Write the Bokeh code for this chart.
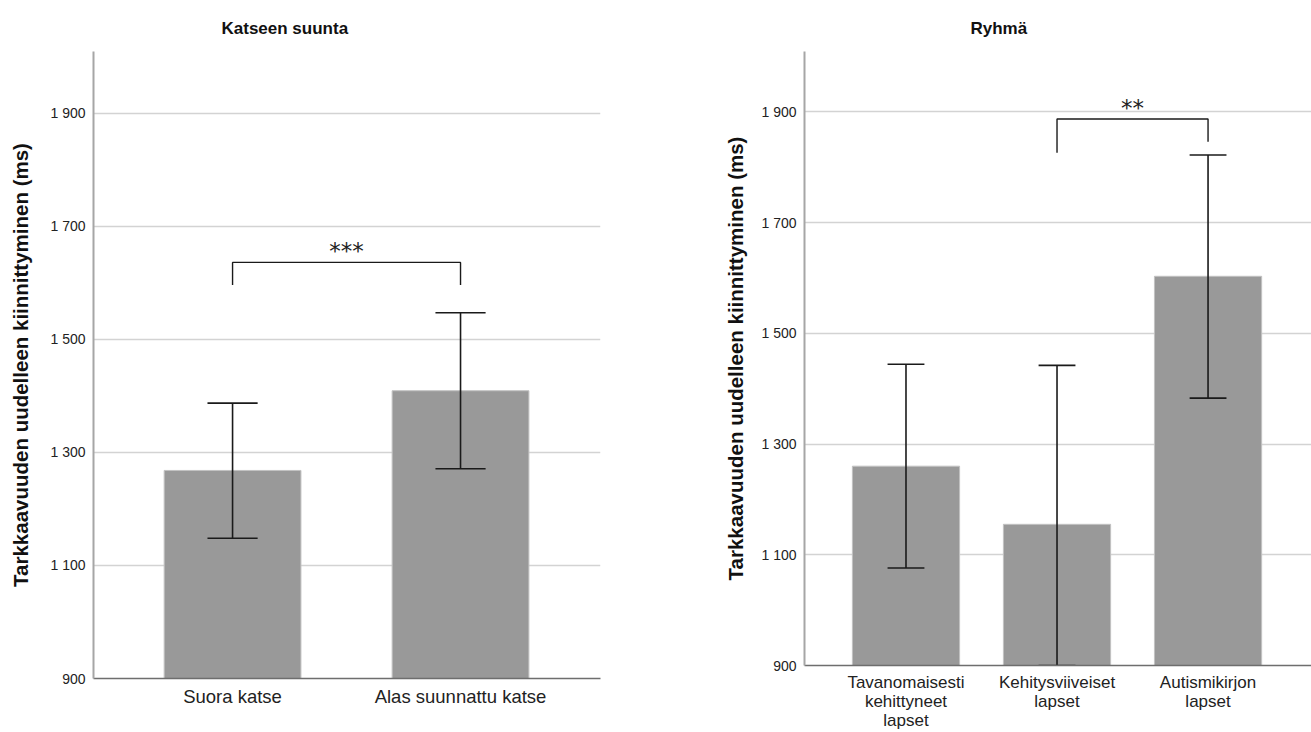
from bokeh.plotting import figure
from bokeh.models import Range1d, FixedTicker, ColumnDataSource
from bokeh.layouts import row, column
from bokeh.embed import file_html
from bokeh.resources import INLINE
from bokeh.core.properties import value

FONT = "Liberation Sans"

# ---- data ----
title1 = "Katseen suunta"
cats1 = ["Suora katse", "Alas suunnattu katse"]
means1 = [1268, 1409]
lower1 = [1148, 1271]
upper1 = [1387, 1547]

title2 = "Ryhmä"
cats2 = ["Tavanomaisesti\nkehittyneet\nlapset", "Kehitysviiveiset\nlapset", "Autismikirjon\nlapset"]
means2 = [1260, 1155, 1603]
lower2 = [1076, 900, 1383]
upper2 = [1444, 1442, 1822]

ytick_values = [900, 1100, 1300, 1500, 1700, 1900]
ytick_labels = ["900", "1 100", "1 300", "1 500", "1 700", "1 900"]
y_label = "Tarkkaavuuden uudelleen kiinnittyminen (ms)"

sig1_pair = [0, 1]
sig1_levels = [1596, 1636, 1636, 1596]
sig1_text = "***"

sig2_pair = [1, 2]
sig2_levels = [1826, 1887, 1887, 1846]
sig2_text = "**"


def make_panel(title, cats, means, lower, upper, pair, levels, star,
               x_start, x_end, width, height, b_left, b_right, b_top, b_bottom,
               bar_w, cap_half, title_offset, xlab_size, xlab_standoff, ylab_standoff):
    idx = list(range(len(cats)))
    p = figure(width=width, height=height, output_backend="svg", toolbar_location=None,
               x_range=Range1d(x_start, x_end), y_range=Range1d(900, 2009),
               min_border_left=b_left, min_border_right=b_right,
               min_border_top=b_top, min_border_bottom=b_bottom)
    p.outline_line_color = None
    p.background_fill_color = "white"
    p.border_fill_color = "white"

    p.title.text = title
    p.title.text_font = FONT
    p.title.text_font_size = "17px"
    p.title.text_font_style = "bold"
    p.title.text_color = "#111111"
    p.title.align = "left"
    p.title.offset = title_offset
    p.title.standoff = 27

    src = ColumnDataSource(dict(x=idx, top=means, lo=lower, hi=upper,
                                cl=[i - cap_half for i in idx], cr=[i + cap_half for i in idx]))
    p.vbar(x="x", top="top", bottom=900, width=bar_w, source=src,
           fill_color="#999999", line_color="#c2c2c2", line_width=1)
    p.segment(x0="x", y0="lo", x1="x", y1="hi", source=src, line_color="#1a1a1a", line_width=1.6)
    p.segment(x0="cl", y0="lo", x1="cr", y1="lo", source=src, line_color="#1a1a1a", line_width=1.6)
    p.segment(x0="cl", y0="hi", x1="cr", y1="hi", source=src, line_color="#1a1a1a", line_width=1.6)

    # significance bracket
    i0, i1 = pair
    p.line(x=[i0, i0, i1, i1], y=levels, line_color="#1a1a1a", line_width=1.4)
    p.text(x=[(i0 + i1) / 2], y=[levels[1]], text=[star], text_font=value("DejaVu Sans"),
           text_font_size="23px", text_align="center", text_baseline="alphabetic",
           y_offset=-11, text_color="#222222")

    # axes
    p.xaxis.ticker = FixedTicker(ticks=idx)
    p.xaxis.major_label_overrides = {i: c for i, c in zip(idx, cats)}
    p.xaxis.major_label_text_font = FONT
    p.xaxis.major_label_text_font_size = xlab_size
    p.xaxis.major_label_text_line_height = 1.0
    p.xaxis.major_label_text_color = "#222222"
    p.xaxis.major_label_standoff = xlab_standoff
    p.xaxis.major_tick_line_color = None
    p.xaxis.major_tick_out = 0
    p.xaxis.major_tick_in = 0
    p.xaxis.minor_tick_line_color = None
    p.xaxis.axis_label_standoff = 0
    p.xaxis.axis_line_color = "#6e6e6e"
    p.xaxis.axis_line_width = 1.5

    p.yaxis.ticker = FixedTicker(ticks=ytick_values)
    p.yaxis.major_label_overrides = {v: l for v, l in zip(ytick_values, ytick_labels)}
    p.yaxis.major_label_text_font = FONT
    p.yaxis.major_label_text_font_size = "14px"
    p.yaxis.major_label_text_color = "#222222"
    p.yaxis.major_label_standoff = 8
    p.yaxis.major_tick_line_color = None
    p.yaxis.major_tick_out = 0
    p.yaxis.major_tick_in = 0
    p.yaxis.minor_tick_line_color = None
    p.yaxis.axis_line_color = "#a6a6a6"
    p.yaxis.axis_line_width = 2
    p.yaxis.axis_label = y_label
    p.yaxis.axis_label_text_font = FONT
    p.yaxis.axis_label_text_font_size = "20.5px"
    p.yaxis.axis_label_text_font_style = "bold"
    p.yaxis.axis_label_text_color = "#111111"
    p.yaxis.axis_label_standoff = ylab_standoff

    p.xgrid.grid_line_color = None
    p.ygrid.ticker = FixedTicker(ticks=ytick_values[1:])
    p.ygrid.grid_line_color = "#d3d3d3"
    p.ygrid.grid_line_width = 1.5
    p.ygrid.level = "underlay"
    return p


p1 = make_panel(title1, cats1, means1, lower1, upper1, sig1_pair, sig1_levels, sig1_text,
                -0.61, 1.614, 700, 732, 93, 100, 51, 54, 0.6, 0.11, 128, "18.5px", 7, 15)
p2 = make_panel(title2, cats2, means2, lower2, upper2, sig2_pair, sig2_levels, sig2_text,
                -0.672, 2.685, 611, 732, 104, 0, 51, 66, 0.71, 0.122, 166, "17px", 7, 11)

layout = row(column(p1), column(p2))
open("out.html", "w").write(file_html(layout, INLINE))
